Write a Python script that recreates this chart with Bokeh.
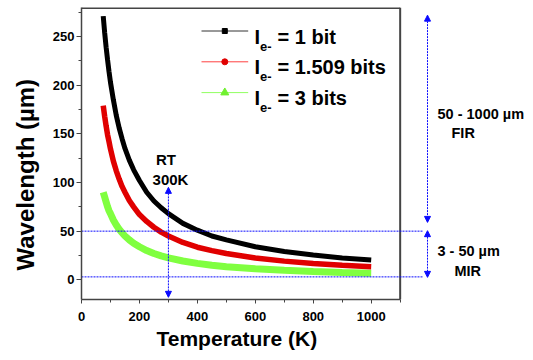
from bokeh.plotting import figure
from bokeh.models import (Range1d, FixedTicker, Label, Arrow, NormalHead,
                          Title)
from bokeh.embed import file_html
from bokeh.resources import INLINE

# ---------------- data ----------------
temperature = [75, 80, 85, 90, 95, 100, 110, 120, 130, 140, 150, 165, 180,
               200, 225, 250, 275, 300, 350, 400, 450, 500, 600, 700, 800,
               900, 1000]
wl_1bit = [271, 254, 239, 226, 214, 203, 185, 169, 156, 145, 135, 123, 113,
           102, 90, 81, 74, 68, 58, 51, 45, 41, 34, 29, 25.5, 22.5, 20.3]
wl_1509bits = [179, 168, 158, 149, 142, 134.5, 122, 112, 103.5, 96, 90, 81.5,
               75, 67, 60, 54, 49, 45, 38.4, 33.5, 30, 27, 22.4, 19.2, 16.8,
               14.9, 13.5]
wl_3bits = [90, 85, 80, 75, 71, 68, 61.5, 56.4, 52, 48.4, 45, 41, 37.6, 34,
            30, 27, 24.6, 22.6, 19.3, 16.9, 15, 13.5, 11.3, 9.7, 8.5, 7.5, 6.8]

legend_labels = ["= 1 bit", "= 1.509 bits", "= 3 bits"]
x_ticks = [0, 200, 400, 600, 800, 1000]
x_minor = [100, 300, 500, 700, 900, 1100]
y_ticks = [0, 50, 100, 150, 200, 250]
y_minor = [25, 75, 125, 175, 225, 275]

mir_bounds = [3, 50]          # um, horizontal guide lines
rt_temperature = 300          # K
rt_arrow = [95, -18]          # arrow extent (um)
fir_arrow = [272, 59]
mir_arrow = [50.5, 2.5]
x_frame_end = 1100

# ---------------- screen <-> data mapping ----------------
X0S, KX = 81.0, 0.2897   # screen x of T=0, px per K
Y0S, KY = 279.3, 0.973   # screen y of 0 um, px per um


def dx(sx):
    return (sx - X0S) / KX


def dy(sy):
    return (Y0S - sy) / KY


FONT = "Liberation Sans"
BLUE = "#0a0aff"
FRAME = "#444444"

p = figure(width=533, height=360, output_backend="svg", toolbar_location=None,
           x_range=Range1d(dx(81), dx(533)), y_range=Range1d(dy(299), dy(7)),
           min_border_left=81, min_border_right=0, min_border_top=7,
           min_border_bottom=61)
p.outline_line_color = None
p.xgrid.visible = False
p.ygrid.visible = False
p.background_fill_color = "white"
p.border_fill_color = "white"

for ax in (p.xaxis[0], p.yaxis[0]):
    ax.axis_line_color = FRAME
    ax.axis_line_width = 1.5
    ax.major_tick_line_color = FRAME
    ax.minor_tick_line_color = FRAME
    ax.major_tick_in = 0
    ax.minor_tick_in = 0
    ax.major_label_text_font = FONT
    ax.major_label_text_font_style = "bold"
    ax.major_label_text_font_size = "13px"
    ax.major_label_text_color = "black"

p.xaxis.ticker = FixedTicker(ticks=x_ticks, minor_ticks=x_minor)
p.xaxis.bounds = (0, x_frame_end)
p.xaxis.major_tick_out = 4
p.xaxis.minor_tick_out = 3
p.xaxis.major_label_standoff = 8

p.yaxis.ticker = FixedTicker(ticks=y_ticks, minor_ticks=y_minor)
p.yaxis.major_tick_out = 5
p.yaxis.minor_tick_out = 3
p.yaxis.major_label_standoff = 2

# axis titles (as side titles so they can be offset like the reference)
p.add_layout(Title(text="Wavelength (\u00b5m)", align="left", offset=29,
                   vertical_align="top", standoff=18, text_font=FONT,
                   text_font_style="bold", text_font_size="24px",
                   text_color="black"), "left")
p.add_layout(Title(text="Temperature (K)", align="left", offset=75,
                   vertical_align="top", standoff=7, text_font=FONT,
                   text_font_style="bold", text_font_size="21px",
                   text_color="black"), "below")

# frame: top and right edges
p.line([0, x_frame_end], [dy(7.5), dy(7.5)], line_color=FRAME, line_width=2)
p.line([x_frame_end, x_frame_end], [dy(299), dy(7)], line_color=FRAME,
       line_width=2)

# curves
p.line(temperature, wl_3bits, line_color="#80ff40", line_width=7)
p.line(temperature, wl_1509bits, line_color="#e00000", line_width=5.5)
p.line(temperature, wl_1bit, line_color="black", line_width=5)

# horizontal guides
for yv in mir_bounds:
    p.line([0, dx(422.7)], [yv, yv], line_color=BLUE, line_width=1,
           line_dash="2 1")


def arrow(xv, y0, y1):
    p.add_layout(Arrow(x_start=xv, y_start=y0, x_end=xv, y_end=y1,
                       line_color=BLUE, line_width=1, line_dash="2 1",
                       start=NormalHead(size=6, fill_color=BLUE,
                                        line_color=BLUE),
                       end=NormalHead(size=6, fill_color=BLUE,
                                      line_color=BLUE)))


arrow(rt_temperature, rt_arrow[0], rt_arrow[1])
arrow(dx(427), fir_arrow[0], fir_arrow[1])
arrow(dx(427), mir_arrow[0], mir_arrow[1])

# legend samples (thin line + marker), drawn at legend positions
legend_styles = [("#333333", "black", "square", 5),
                 ("#ff4040", "#e00000", "circle", 6),
                 ("#90ff60", "#70f030", "triangle", 8)]
for i, (lc, mc, mk, ms) in enumerate(legend_styles):
    ly = dy(30.5 + i * 30.8)
    p.line([dx(201), dx(247.7)], [ly, ly], line_color=lc, line_width=1)
    p.scatter([dx(224.3)], [ly], marker=mk, size=ms, color=mc)


def label(sx, sy, text, size, align="left"):
    p.add_layout(Label(x=dx(sx), y=dy(sy), text=text, text_font=FONT,
                       text_font_style="bold", text_font_size=size,
                       text_color="black", text_align=align,
                       text_baseline="alphabetic"))


for i, txt in enumerate(legend_labels):
    base = 36 + i * 30.5
    label(254, base, "I", "20px")
    label(259.5, base + 9.5, "e-", "13px")
    label(277, base, txt, "20px")

label(165.5, 158.5, "RT", "15px", "center")
label(170, 178.5, "300K", "15px", "center")
label(437, 113.3, "50 - 1000 \u00b5m", "14.5px")
label(451, 132.3, "FIR", "14.5px")
label(437, 250, "3 - 50 \u00b5m", "14.5px")
label(454, 270, "MIR", "14.5px")

open("out.html", "w").write(file_html(p, INLINE))
